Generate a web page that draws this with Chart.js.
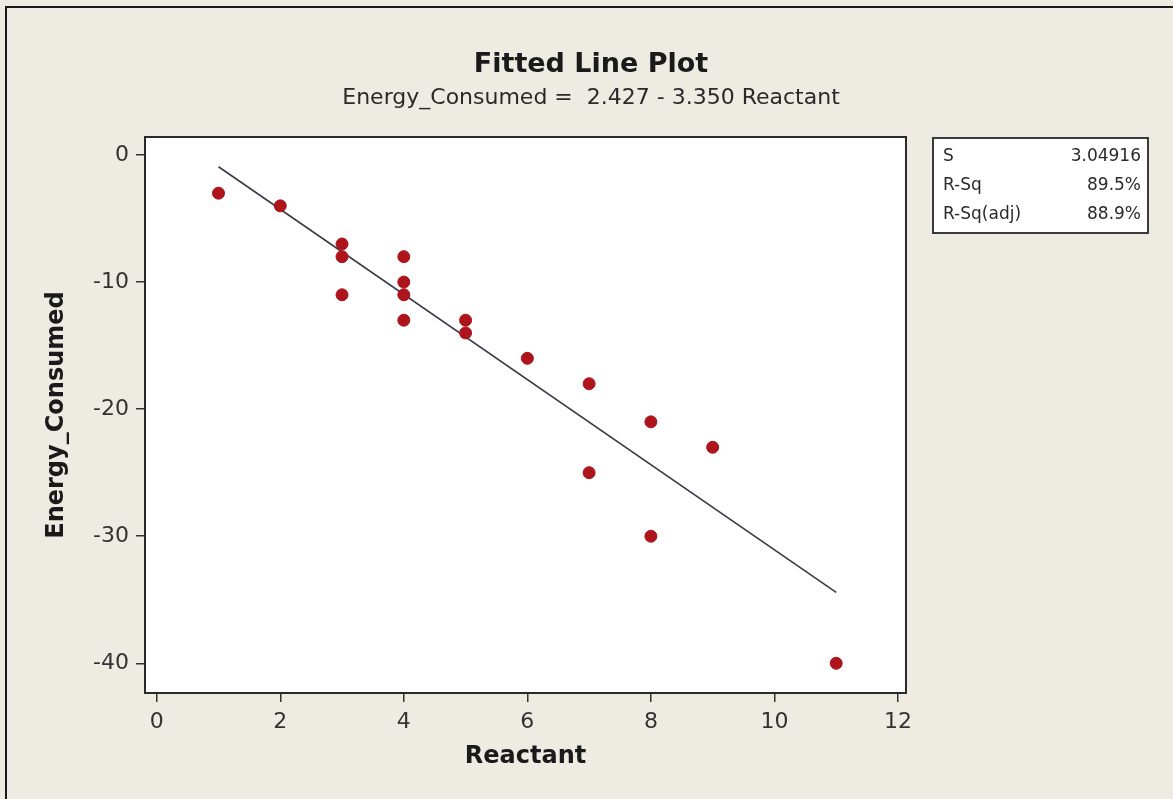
<!DOCTYPE html>
<html>
<head>
<meta charset="utf-8">
<script src="https://cdn.jsdelivr.net/npm/chart.js@4"></script>
<style>
  html, body { margin: 0; padding: 0; background: #eeebe3; }
  canvas { display: block; }
</style>
</head>
<body>
<canvas id="myChart" width="1173" height="799"></canvas>
<script>
// data
var reactant = [1, 2, 3, 3, 3, 4, 4, 4, 4, 5, 5, 6, 7, 7, 8, 8, 9, 11];
var energy = [-3, -4, -7, -8, -11, -8, -10, -11, -13, -13, -14, -16, -18, -25, -21, -30, -23, -40];

// fitted line end points
var fitX = [1, 11];
var fitY = [-0.92, -34.42];

var xTicks = [0, 2, 4, 6, 8, 10, 12];
var yTicks = [0, -10, -20, -30, -40];

var titleText = 'Fitted Line Plot';
var subtitleText = 'Energy_Consumed =  2.427 - 3.350 Reactant';
var statNames = ['S', 'R-Sq', 'R-Sq(adj)'];
var statValues = ['3.04916', '89.5%', '88.9%'];

var FONT = '"DejaVu Sans", Verdana, sans-serif';

var pointData = reactant.map(function(x, i) { return { x: x, y: energy[i] }; });
var lineData = fitX.map(function(x, i) { return { x: x, y: fitY[i] }; });

// background, frame, plot box, titles and the stats box
var decor = {
    id: 'decor',
    beforeDraw: function(chart) {
        var c = chart.ctx;
        var a = chart.chartArea;
        c.save();
        c.fillStyle = '#eeebe3';
        c.fillRect(0, 0, chart.width, chart.height);
        c.strokeStyle = '#1a1a1a';
        c.lineWidth = 2;
        c.beginPath();
        c.moveTo(6, chart.height);
        c.lineTo(6, 7);
        c.lineTo(chart.width, 7);
        c.stroke();
        c.fillStyle = '#ffffff';
        c.fillRect(a.left, a.top, a.right - a.left, a.bottom - a.top);
        c.restore();
    },
    afterDraw: function(chart) {
        var c = chart.ctx;
        var a = chart.chartArea;
        c.save();
        c.strokeStyle = '#2a2a2a';
        c.lineWidth = 2;
        c.strokeRect(a.left, a.top, a.right - a.left, a.bottom - a.top);

        c.fillStyle = '#1a1a1a';
        c.textAlign = 'center';
        c.textBaseline = 'middle';
        c.font = 'bold 27px ' + FONT;
        c.fillText(titleText, 591, 65);
        c.font = '22px ' + FONT;
        c.fillStyle = '#2a2a2a';
        c.fillText(subtitleText, 591, 98);

        // stats box
        c.fillStyle = '#ffffff';
        c.fillRect(933, 138, 215, 95);
        c.strokeStyle = '#3a3a3a';
        c.strokeRect(933, 138, 215, 95);
        c.font = '17px ' + FONT;
        c.fillStyle = '#2a2a2a';
        for (var i = 0; i < statNames.length; i++) {
            var y = 157 + i * 29;
            c.textAlign = 'left';
            c.fillText(statNames[i], 943, y);
            c.textAlign = 'right';
            c.fillText(statValues[i], 1141, y);
        }
        c.restore();
    }
};

var ctx = document.getElementById('myChart').getContext('2d');
var myChart = new Chart(ctx, {
    type: 'scatter',
    data: {
        datasets: [{
            label: 'Fit',
            data: lineData,
            showLine: true,
            borderColor: '#3a3a48',
            borderWidth: 1.6,
            pointRadius: 0,
            order: 2
        }, {
            label: 'Energy_Consumed',
            data: pointData,
            backgroundColor: '#ad141c',
            borderColor: '#ad141c',
            pointRadius: 6,
            pointHoverRadius: 6,
            order: 1
        }]
    },
    options: {
        responsive: false,
        animation: false,
        devicePixelRatio: 1,
        layout: {
            padding: { left: 8, top: 137, right: 267, bottom: 0 }
        },
        plugins: {
            legend: { display: false },
            tooltip: { enabled: false }
        },
        scales: {
            x: {
                type: 'linear',
                min: -0.19,
                max: 12.13,
                afterBuildTicks: function(scale) {
                    scale.ticks = xTicks.map(function(v) { return { value: v }; });
                },
                afterFit: function(scale) { scale.height = 106; },
                grid: { drawOnChartArea: false, tickLength: 9, color: '#333', lineWidth: 1.5 },
                border: { display: false },
                ticks: { color: '#333', padding: 7, font: { family: FONT, size: 22 } },
                title: {
                    display: true,
                    text: 'Reactant',
                    color: '#1a1a1a',
                    font: { family: FONT, size: 24, weight: 'bold' },
                    padding: { top: 0, bottom: 28 }
                }
            },
            y: {
                type: 'linear',
                min: -42.34,
                max: 1.42,
                afterBuildTicks: function(scale) {
                    scale.ticks = yTicks.map(function(v) { return { value: v }; });
                },
                afterFit: function(scale) { scale.width = 137; },
                grid: { drawOnChartArea: false, tickLength: 9, color: '#333', lineWidth: 1.5 },
                border: { display: false },
                ticks: { color: '#333', padding: 7, font: { family: FONT, size: 22 } },
                title: {
                    display: true,
                    text: 'Energy_Consumed',
                    color: '#1a1a1a',
                    font: { family: FONT, size: 24, weight: 'bold' },
                    padding: { top: 34, bottom: 0 }
                }
            }
        }
    },
    plugins: [decor]
});
</script>
</body>
</html>
